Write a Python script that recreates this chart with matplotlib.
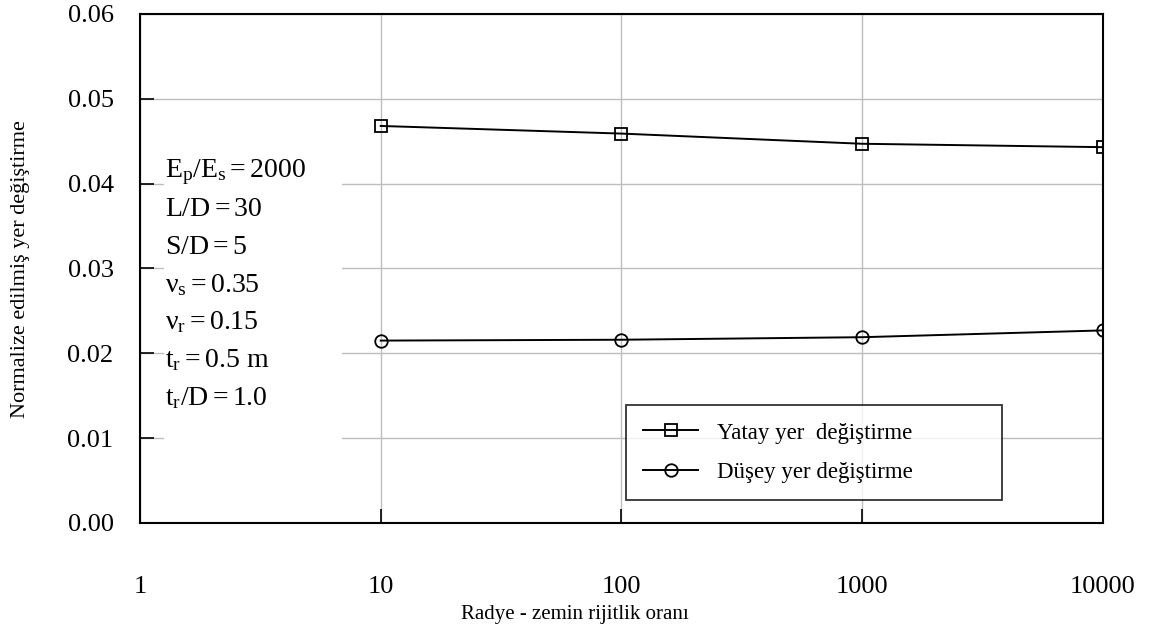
import matplotlib.pyplot as plt
from matplotlib.patches import Rectangle

plt.rcParams['font.family'] = 'Liberation Serif'
plt.rcParams['mathtext.fontset'] = 'custom'
plt.rcParams['mathtext.rm'] = 'Liberation Serif'
plt.rcParams['mathtext.it'] = 'Liberation Serif'

# Verileri
rijitlik = [10, 100, 1000, 10000]
yatay = [0.0468, 0.0459, 0.0447, 0.0443]
dusey = [0.0215, 0.0216, 0.0219, 0.0227]

xticks = [1, 10, 100, 1000, 10000]
xticklabels = ['1', '10', '100', '1000', '10000']
yticks = [0.00, 0.01, 0.02, 0.03, 0.04, 0.05, 0.06]

parametreler = [
    r'$\mathregular{E_p/E_s = 2000}$',
    r'$\mathregular{L/D = 30}$',
    r'$\mathregular{S/D = 5}$',
    r'$\mathregular{ν_s = 0.35}$',
    r'$\mathregular{ν_r = 0.15}$',
    r'$\mathregular{t_r = 0.5\ m}$',
    r'$\mathregular{t_r/D = 1.0}$',
]

fig = plt.figure(figsize=(11.49, 6.35), dpi=100)
ax = fig.add_axes([0.1218, 0.1764, 0.8382, 0.8016])

ax.plot(rijitlik, yatay, color='black', lw=1.4, marker='s', ms=9,
        mfc='none', mec='black', mew=1.3, label='Yatay yer  değiştirme')
ax.plot(rijitlik, dusey, color='black', lw=1.4, marker='o', ms=9,
        mfc='none', mec='black', mew=1.3, label='Düşey yer değiştirme')

ax.set_xscale('log')
ax.set_xlim(1, 10000)
ax.set_ylim(0, 0.06)
ax.set_xticks(xticks)
ax.set_xticklabels(xticklabels)
ax.minorticks_off()
ax.set_yticks(yticks)
ax.set_yticklabels(['%.2f' % v for v in yticks])
ax.tick_params(axis='both', direction='in', length=10, width=1.2,
               labelsize=19, colors='black')
ax.tick_params(axis='x', pad=38)
ax.tick_params(axis='y', pad=19)
ax.grid(True, color='#bdbdbd', lw=1.0)
ax.set_axisbelow(True)
for s in ax.spines.values():
    s.set_linewidth(1.5)

# parametre kutusu (grid çizgilerini örter)
ax.add_patch(Rectangle((0.025, 0.145), 0.185, 0.60, transform=ax.transAxes,
                       facecolor='white', edgecolor='none', zorder=1.5))
for i, t in enumerate(parametreler):
    ax.text(0.026, 0.69 - i * 0.074, t, transform=ax.transAxes,
            fontsize=20, va='center', ha='left', zorder=3)

fig.text(0.018, 0.577, 'Normalize edilmiş yer değiştirme', fontsize=16,
         rotation=90, ha='center', va='center')
fig.text(0.5, 0.033, 'Radye - zemin rijitlik oranı', fontsize=15,
         ha='center', va='center')

leg = ax.legend(loc='lower left', bbox_to_anchor=(0.505, 0.045, 0.39, 0.18),
                mode='expand', fontsize=16.5, frameon=True, fancybox=False,
                handlelength=2.4, borderpad=0.75, labelspacing=0.8,
                handletextpad=0.8, borderaxespad=0)
leg.get_frame().set_edgecolor('black')
leg.get_frame().set_linewidth(1.3)

fig.savefig('out.png', dpi=100)
